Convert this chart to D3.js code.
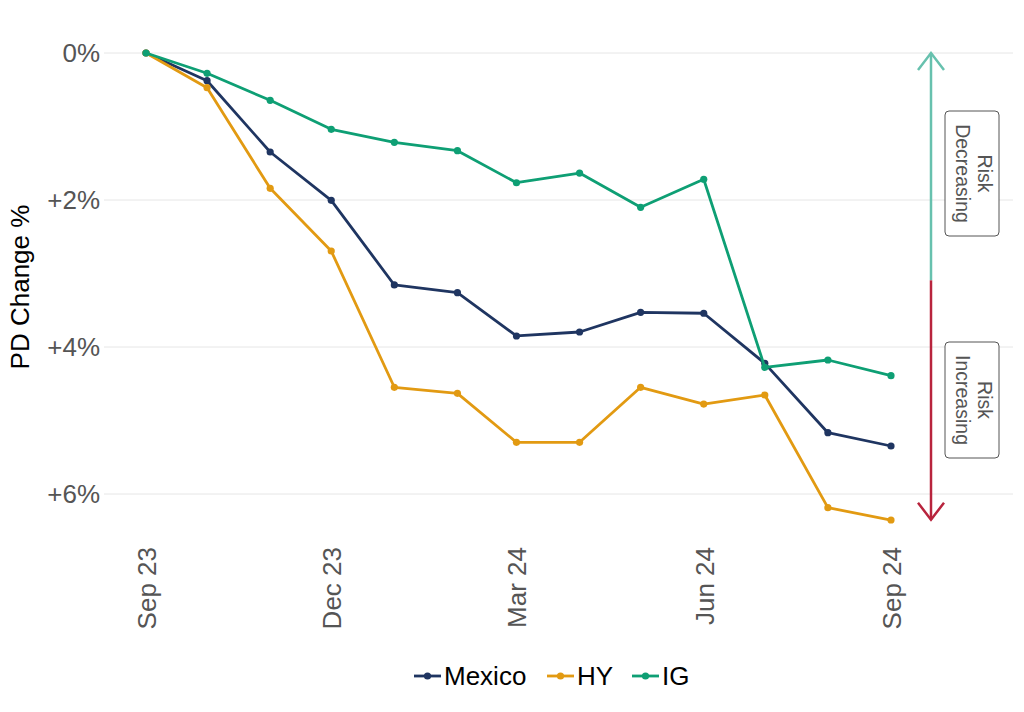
<!DOCTYPE html>
<html>
<head>
<meta charset="utf-8">
<script src="https://cdn.jsdelivr.net/npm/d3@7"></script>
<style>
  html, body { margin: 0; padding: 0; background: #fff; }
  svg { display: block; font-family: "Liberation Sans", Arial, Helvetica, sans-serif; }
</style>
</head>
<body>
<svg id="chart" width="1024" height="712"></svg>
<script>
// ---- data ----
const months = ["2023-09-01","2023-10-01","2023-11-01","2023-12-01","2024-01-01","2024-02-01",
                "2024-03-01","2024-04-01","2024-05-01","2024-06-01","2024-07-01","2024-08-01","2024-09-01"];
const mexico = [0, 0.377, 1.347, 2.004, 3.156, 3.261, 3.850, 3.796, 3.528, 3.541, 4.222, 5.166, 5.347];
const hy     = [0, 0.472, 1.841, 2.694, 4.548, 4.630, 5.297, 5.297, 4.548, 4.776, 4.653, 6.186, 6.354];
const ig     = [0, 0.276, 0.644, 1.038, 1.215, 1.329, 1.765, 1.633, 2.099, 1.718, 4.276, 4.177, 4.390];
const seriesNames = ["Mexico", "HY", "IG"];
const seriesColors = ["#1f3561", "#e29a12", "#0e9f74"];
const yTicks = [0, 2, 4, 6];
const yTickLabels = ["0%", "+2%", "+4%", "+6%"];
const xTicks = ["2023-09-01","2023-12-01","2024-03-01","2024-06-01","2024-09-01"];
const xTickLabels = ["Sep 23", "Dec 23", "Mar 24", "Jun 24", "Sep 24"];
const yTitle = "PD Change %";
const riskLabels = [["Risk", "Decreasing"], ["Risk", "Increasing"]];

// ---- setup ----
const svg = d3.select("#chart");
const parse = d3.timeParse("%Y-%m-%d");
const dates = months.map(parse);
const seriesValues = [mexico, hy, ig];
const FS = 26;

const x = d3.scaleTime()
  .domain([parse("2023-09-01"), parse("2024-09-01")])
  .range([146, 891]);
const y = d3.scaleLinear().domain([0, 6]).range([53, 494]);

const gridLeft = 104, gridRight = 1013;

// gridlines
svg.append("g").selectAll("line").data(yTicks).join("line")
  .attr("x1", gridLeft).attr("x2", gridRight)
  .attr("y1", d => y(d)).attr("y2", d => y(d))
  .attr("stroke", "#e6e6e6").attr("stroke-width", 1);

// y axis labels
const yAxis = d3.axisLeft(y).tickValues(yTicks).tickFormat((d, i) => yTickLabels[i]).tickSize(0).tickPadding(0);
const gy = svg.append("g").attr("transform", `translate(100,0)`).call(yAxis);
gy.select(".domain").remove();
gy.selectAll("text").attr("font-size", FS).attr("fill", "#555").attr("font-family", "Liberation Sans, Arial, sans-serif");

// x axis labels
const xAxis = d3.axisBottom(x).tickValues(xTicks.map(parse)).tickFormat((d, i) => xTickLabels[i]).tickSize(0);
const gx = svg.append("g").attr("transform", `translate(0,547)`).call(xAxis);
gx.select(".domain").remove();
gx.selectAll("text")
  .attr("font-size", FS).attr("fill", "#555").attr("font-family", "Liberation Sans, Arial, sans-serif")
  .attr("transform", "rotate(-90)")
  .attr("text-anchor", "end")
  .attr("x", 0).attr("y", 0).attr("dy", "0.36em");

// y title
svg.append("text")
  .attr("transform", "translate(29,287) rotate(-90)")
  .attr("text-anchor", "middle")
  .attr("font-size", FS).attr("fill", "#000")
  .text(yTitle);

// lines
const line = d3.line().x((d, i) => x(dates[i])).y(d => y(d));
seriesValues.forEach((vals, si) => {
  const g = svg.append("g");
  g.append("path").datum(vals)
    .attr("d", line).attr("fill", "none")
    .attr("stroke", seriesColors[si]).attr("stroke-width", 2.8)
    .attr("stroke-linejoin", "round");
  g.selectAll("circle").data(vals).join("circle")
    .attr("cx", (d, i) => x(dates[i])).attr("cy", d => y(d))
    .attr("r", 3.6).attr("fill", seriesColors[si]);
});

// risk arrow
const ax = 931;
const yTop = y(0), yBot = y(6.35);
const yMid = (yTop + yBot) / 2 - 6;
const teal = "#67c1ae", red = "#b8243d";
svg.append("line").attr("x1", ax).attr("x2", ax).attr("y1", yTop).attr("y2", yMid)
  .attr("stroke", teal).attr("stroke-width", 2.5);
svg.append("line").attr("x1", ax).attr("x2", ax).attr("y1", yMid).attr("y2", yBot)
  .attr("stroke", red).attr("stroke-width", 2.5);
svg.append("path").attr("d", `M${ax-13},${yTop+17} L${ax},${yTop} L${ax+13},${yTop+17}`)
  .attr("fill", "none").attr("stroke", teal).attr("stroke-width", 2.5);
svg.append("path").attr("d", `M${ax-13},${yBot-17} L${ax},${yBot} L${ax+13},${yBot-17}`)
  .attr("fill", "none").attr("stroke", red).attr("stroke-width", 2.5);

// risk label boxes
const boxes = [{y0: 111, y1: 236}, {y0: 342, y1: 458}];
boxes.forEach((b, i) => {
  svg.append("rect").attr("x", 945).attr("y", b.y0).attr("width", 54).attr("height", b.y1 - b.y0)
    .attr("rx", 4).attr("fill", "#fff").attr("stroke", "#555").attr("stroke-width", 1);
  const cy = (b.y0 + b.y1) / 2;
  const t = svg.append("text")
    .attr("transform", `translate(972,${cy}) rotate(90)`)
    .attr("text-anchor", "middle").attr("font-size", 19.5).attr("fill", "#555");
  t.append("tspan").attr("x", 0).attr("dy", "-0.3em").text(riskLabels[i][0]);
  t.append("tspan").attr("x", 0).attr("dy", "1.1em").text(riskLabels[i][1]);
});

// legend
const legendItems = [{x: 414}, {x: 547}, {x: 632}];
const ly = 676;
seriesNames.forEach((name, i) => {
  const lx = legendItems[i].x;
  svg.append("line").attr("x1", lx).attr("x2", lx + 27).attr("y1", ly).attr("y2", ly)
    .attr("stroke", seriesColors[i]).attr("stroke-width", 2.8);
  svg.append("circle").attr("cx", lx + 13.5).attr("cy", ly).attr("r", 3.6).attr("fill", seriesColors[i]);
  svg.append("text").attr("x", lx + 30).attr("y", ly).attr("dy", "0.36em")
    .attr("font-size", FS).attr("fill", "#000").text(name);
});
</script>
</body>
</html>
